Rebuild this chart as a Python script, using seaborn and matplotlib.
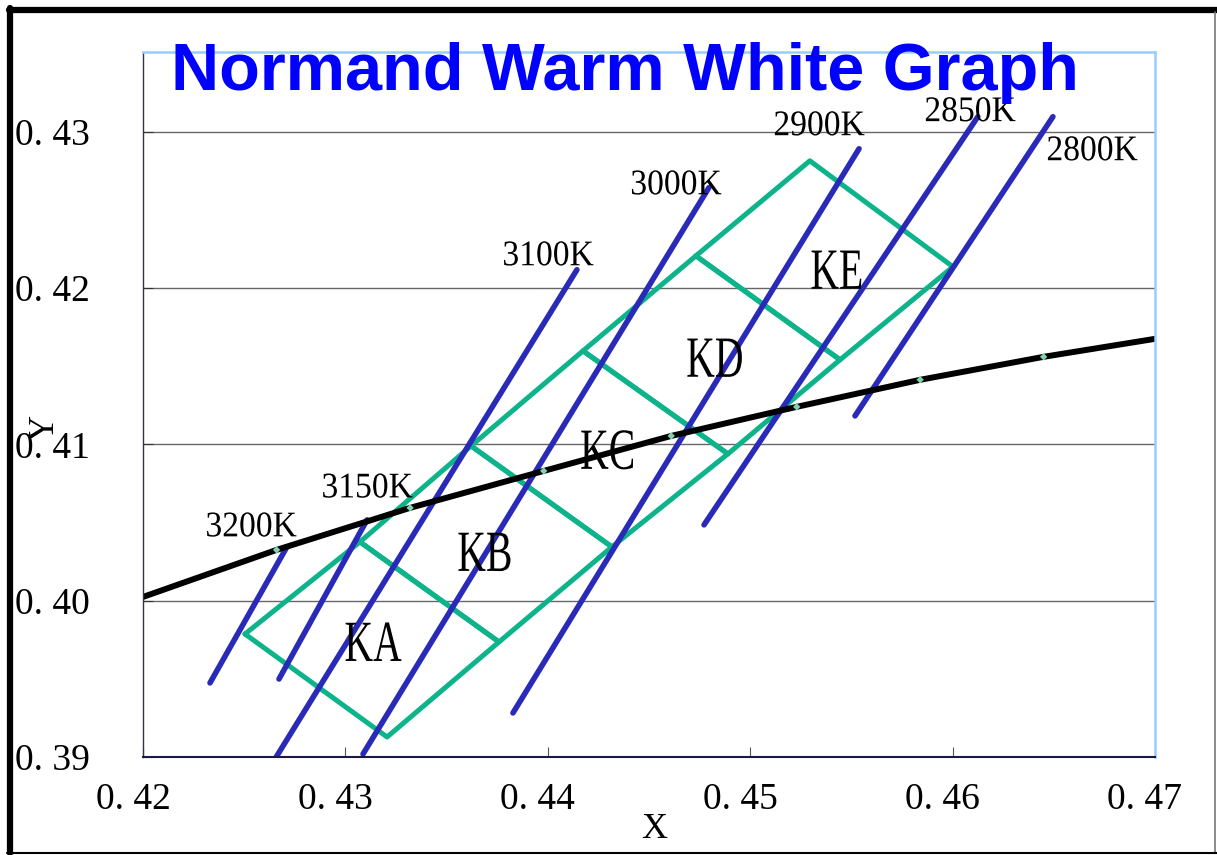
import numpy as np
import pandas as pd
import matplotlib.pyplot as plt
import seaborn as sns
from matplotlib.lines import Line2D
from matplotlib.patheffects import AbstractPathEffect
from matplotlib.transforms import Affine2D, ScaledTranslation

# black-body locus (x, y) with the marked points in between
locus_x = [0.4200, 0.4266, 0.4332, 0.4398, 0.4461, 0.4523, 0.4584, 0.4645, 0.4700]
locus_y = [0.40024, 0.40325, 0.40594, 0.40830, 0.41054, 0.41240, 0.41413, 0.41560, 0.41675]

# isotherm segments, one per CCT
cct_labels = ["3200K", "3150K", "3100K", "3000K", "2900K", "2850K", "2800K"]
iso_x0 = [0.42331, 0.42672, 0.42652, 0.43087, 0.43828, 0.44772, 0.45518]
iso_y0 = [0.39474, 0.39499, 0.38987, 0.39019, 0.39282, 0.40485, 0.41182]
iso_x1 = [0.42711, 0.43107, 0.44144, 0.44796, 0.45538, 0.46125, 0.46496]
iso_y1 = [0.40344, 0.40517, 0.42117, 0.42642, 0.42891, 0.43096, 0.43096]
cct_label_x = [0.42534, 0.43107, 0.44001, 0.44633, 0.45340, 0.46086, 0.46689]
cct_label_y = [0.40466, 0.40715, 0.42200, 0.42654, 0.43032, 0.43122, 0.42872]

# bin quadrangles: upper-left and lower-right corner chains
bin_names = ["KA", "KB", "KC", "KD", "KE"]
upper_x = [0.42504, 0.43072, 0.43621, 0.44174, 0.44732, 0.45295]
upper_y = [0.39787, 0.40376, 0.40990, 0.41598, 0.42206, 0.42814]
lower_x = [0.43206, 0.43759, 0.44317, 0.44890, 0.45444, 0.46002]
lower_y = [0.39128, 0.39736, 0.40344, 0.40939, 0.41541, 0.42136]
bin_label_x = [0.43136, 0.43690, 0.44297, 0.44826, 0.45429]
bin_label_y = [0.39704, 0.40280, 0.40933, 0.41522, 0.42085]

xticks = [0.42, 0.43, 0.44, 0.45, 0.46, 0.47]
xtick_labels = ["0. 42", "0. 43", "0. 44", "0. 45", "0. 46", "0. 47"]
yticks = [0.39, 0.40, 0.41, 0.42, 0.43]
ytick_labels = ["0. 39", "0. 40", "0. 41", "0. 42", "0. 43"]

GREEN = "#0DB38A"
BLUE = "#2A2AB8"
SERIF = "Liberation Serif"


class Squeeze(AbstractPathEffect):
    """Narrow the glyphs horizontally around the text centre."""

    def __init__(self, sx):
        super().__init__()
        self.sx = sx

    def draw_path(self, renderer, gc, tpath, affine, rgbFace=None):
        ext = tpath.get_extents()
        cx = (ext.x0 + ext.x1) / 2
        t = Affine2D().translate(-cx, 0).scale(self.sx, 1).translate(cx, 0)
        renderer.draw_path(gc, tpath, t + affine, rgbFace)


sns.set_style("white")
plt.rcParams["font.family"] = [SERIF, "DejaVu Serif"]
plt.rcParams["text.color"] = "black"
plt.rcParams["axes.labelcolor"] = "black"

fig = plt.figure(figsize=(12.17, 8.55), dpi=100)
ax = fig.add_axes([0.1175, 0.1146, 0.8315, 0.8246])

# quadrangles
rows = []
for i, name in enumerate(bin_names):
    xs = [upper_x[i], upper_x[i + 1], lower_x[i + 1], lower_x[i], upper_x[i]]
    ys = [upper_y[i], upper_y[i + 1], lower_y[i + 1], lower_y[i], upper_y[i]]
    for k, (x, y) in enumerate(zip(xs, ys)):
        rows.append({"bin": name, "order": k, "x": x, "y": y})
bins_df = pd.DataFrame(rows)
sns.lineplot(data=bins_df, x="x", y="y", units="bin", estimator=None, sort=False,
             color=GREEN, lw=3.6, ax=ax)

# isotherms
iso_df = pd.DataFrame({
    "cct": cct_labels * 2,
    "x": iso_x0 + iso_x1,
    "y": iso_y0 + iso_y1,
})
sns.lineplot(data=iso_df, x="x", y="y", units="cct", estimator=None, sort=False,
             color=BLUE, lw=4.0, ax=ax)

# locus
locus_df = pd.DataFrame({"x": locus_x, "y": locus_y})
sns.lineplot(data=locus_df, x="x", y="y", color="black", lw=4.3, ax=ax)
sns.scatterplot(data=locus_df.iloc[1:-1], x="x", y="y", marker="D", s=14,
                color="#7FD3B0", edgecolor="none", ax=ax, zorder=5)

for lab, x, y in zip(cct_labels, cct_label_x, cct_label_y):
    ax.text(x, y, lab, ha="center", va="center", fontsize=26, family=SERIF,
            color="black", path_effects=[Squeeze(0.93)])
for lab, x, y in zip(bin_names, bin_label_x, bin_label_y):
    ax.text(x, y, lab, ha="center", va="center", fontsize=42, family=SERIF,
            color="black", path_effects=[Squeeze(0.68)])

ax.set_xlim(0.42, 0.47)
ax.set_ylim(0.39, 0.4351)
ax.set_xticks(xticks)
ax.set_xticklabels(xtick_labels)
ax.set_yticks(yticks)
ax.set_yticklabels(ytick_labels)
ax.tick_params(axis="x", direction="in", length=7, width=0.8, color="#555555",
               pad=18, labelsize=27, labelcolor="black", bottom=True)
ax.tick_params(axis="y", direction="in", length=7, width=0.8, color="#333333",
               pad=38, labelsize=27, labelcolor="black", left=True)
for t in ax.get_yticklabels():
    t.set_horizontalalignment("right")
# x tick labels sit a little left of their ticks in the original
shift = ScaledTranslation(-0.10, 0, fig.dpi_scale_trans)
for t in ax.get_xticklabels():
    t.set_transform(t.get_transform() + shift)

ax.yaxis.grid(True, color="#666666", lw=1)
ax.xaxis.grid(False)
ax.set_axisbelow(True)

ax.set_xlabel("X", fontsize=26)
ax.set_ylabel("Y", fontsize=26)
ax.xaxis.set_label_coords(0.505, -0.079)
ax.yaxis.set_label_coords(-0.080, 0.467)

ax.spines["left"].set_color("#333344")
ax.spines["left"].set_linewidth(1.0)
ax.spines["bottom"].set_color("#1A1A40")
ax.spines["bottom"].set_linewidth(1.5)
for s in ["top", "right"]:
    ax.spines[s].set_color("#99CCFF")
    ax.spines[s].set_linewidth(1.8)

fig.text(0.5136, 0.9146, "Normand Warm White Graph", ha="center", va="center",
         color="#0000FF", fontsize=48, fontweight="bold", family="Liberation Sans")

# outer frame
fig.add_artist(Line2D([0.0075, 1.0], [0.9883, 0.9883], color="black", lw=4.5))
fig.add_artist(Line2D([0.0081, 0.0081], [0.0025, 0.9905], color="black", lw=4.5))
fig.add_artist(Line2D([0.9984, 0.9984], [0.0025, 0.986], color="#777777", lw=1.2))
fig.add_artist(Line2D([0.006, 1.0], [0.0025, 0.0025], color="black", lw=1.5))

fig.savefig("out.png", dpi=100)
